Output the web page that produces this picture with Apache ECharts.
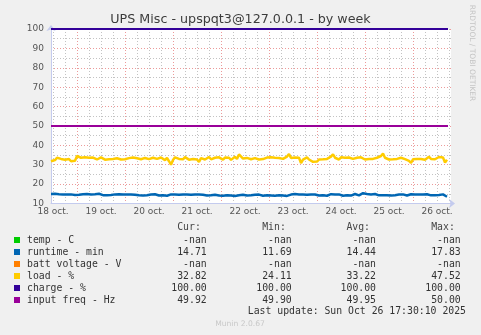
<!DOCTYPE html>
<html><head><meta charset="utf-8">
<script src="https://cdn.jsdelivr.net/npm/echarts@6/dist/echarts.min.js"></script>
<style>html,body{margin:0;padding:0;background:#f0f0f0}#c{width:481px;height:335px}</style>
</head><body><div id="c"></div><script>
// hours counted from 18 Oct 00:00
const axisStartHour = 11;
const axisEndHour = 211;
const dataStartHour = 11;
const dayLabels = ['18 oct.','19 oct.','20 oct.','21 oct.','22 oct.','23 oct.','24 oct.','25 oct.','26 oct.'];
const yTickValues = [10,20,30,40,50,60,70,80,90,100];

const loadValues = [
  31.8,31.2,32.4,33.6,33.9,33.0,33.8,32.6,32.2,32.9,31.8,32.6,32.1,
  34.5,33.8,33.6,32.9,33.8,32.9,33.6,32.8,33.7,33.0,32.7,33.6,33.8,32.9,32.6,33.5,32.8,33.7,33.0,32.5,33.3,33.6,32.7,33.5,
  32.8,32.4,33.4,32.6,33.7,32.7,33.3,33.8,32.8,32.5,33.5,34.0,32.9,32.7,33.6,34.1,33.0,32.6,33.7,32.9,32.4,33.5,31.8,30.0,
  32.4,33.8,34.1,33.0,33.7,32.8,33.9,33.1,32.6,33.6,32.9,33.8,32.7,31.4,33.4,33.7,32.7,33.5,34.0,32.8,32.5,33.6,32.9,33.8,
  33.0,32.6,33.7,32.8,33.6,32.5,33.5,34.1,33.0,35.3,34.6,33.2,32.7,33.5,33.8,32.8,32.4,33.4,33.7,32.7,33.6,32.9,32.6,33.7,
  32.9,33.8,32.8,33.6,32.6,33.5,34.1,33.0,33.8,34.2,35.5,33.5,33.0,33.7,32.7,33.6,30.9,32.6,33.5,33.8,32.7,33.4,31.5,32.1,
  31.6,32.7,33.6,32.8,33.8,33.0,32.7,34.2,35.4,33.6,33.1,32.7,33.8,32.9,33.6,32.6,33.7,34.1,33.0,32.5,33.6,32.8,33.8,33.0,
  32.7,33.7,32.9,33.9,33.0,32.6,33.6,34.1,34.5,35.8,33.6,33.1,32.7,33.7,32.8,33.8,33.0,32.5,33.6,34.0,32.9,32.4,32.0,30.9,
  32.8,33.7,33.0,33.9,32.9,33.6,32.6,33.5,34.1,33.0,33.8,32.8,33.6,34.0,33.0,33.7,31.1,32.6
];
const runtimeValues = [
  14.9,14.5,15.0,14.4,14.8,14.3,14.7,14.2,14.6,14.0,14.7,14.9,14.4,
  15.0,14.5,14.3,14.8,14.4,14.9,14.3,14.7,14.2,14.8,14.4,15.0,14.5,14.3,14.8,14.2,14.7,14.4,14.1,14.7,14.3,14.8,14.2,14.6,
  14.1,14.6,14.2,14.7,14.0,14.5,14.8,14.2,14.6,14.1,14.7,14.3,14.0,14.6,14.2,14.8,14.3,14.1,14.7,14.2,14.6,14.0,14.5,14.7,
  14.2,14.6,14.1,14.5,13.9,14.7,14.2,14.6,14.0,14.5,14.1,14.7,14.2,14.6,14.0,14.5,14.8,14.1,14.6,14.2,13.9,14.5,14.7,14.1,
  14.5,14.0,14.6,14.2,14.7,14.1,14.5,13.9,14.6,14.2,14.0,14.5,14.7,14.1,14.6,14.2,13.8,14.5,14.1,14.6,14.2,14.0,14.7,14.2,
  14.6,14.1,14.5,14.0,14.7,14.2,14.6,14.1,14.5,13.9,14.2,14.6,14.1,14.9,14.3,14.7,14.2,14.6,14.0,14.5,14.1,14.7,14.2,14.6,
  14.3,14.1,14.7,14.2,14.6,14.0,14.5,14.8,14.2,14.6,14.1,14.7,14.3,14.0,14.6,14.2,14.7,14.1,14.5,14.9,14.4,14.2,14.7,15.3,
  15.1,14.9,14.2,14.7,14.3,14.9,14.4,14.2,14.7,14.3,14.8,14.2,14.6,14.1,14.7,14.3,14.0,14.6,14.2,14.7,14.3,14.1,14.6,14.8,
  14.3,14.7,14.2,14.6,14.1,14.7,14.3,14.8,14.4,14.2,14.7,14.3,14.9,14.4,14.2,14.7,13.9,13.5
];
const chargeHours = [11, 209.5];
const chargeValues = [100, 100];
const freqHours = [11, 60, 110, 160, 209.5];
const freqValues = [49.95, 49.93, 49.97, 49.94, 49.92];
const tempValues = [];
const battValues = [];

const legendNames = ['temp - C','runtime - min','batt voltage - V','load - %','charge - %','input freq - Hz'];
const legendColors = ['#00cc00','#0066b3','#ff8000','#ffcc00','#330099','#990099'];
const curValues = ['-nan','14.71','-nan','32.82','100.00','49.92'];
const minValues = ['-nan','11.69','-nan','24.11','100.00','49.90'];
const avgValues = ['-nan','14.44','-nan','33.22','100.00','49.95'];
const maxValues = ['-nan','17.83','-nan','47.52','100.00','50.00'];
const headers = ['Cur:','Min:','Avg:','Max:'];
const lastUpdate = 'Last update: Sun Oct 26 17:30:10 2025';

const RED = 'rgba(230,120,120,0.75)';
const GRAY = 'rgba(180,180,180,0.8)';
const NONE = 'rgba(0,0,0,0)';
const xGridColors = [];
for (let k = 0; k < 24; k++) {
  const h = (axisStartHour + k) % 24;
  xGridColors.push(h === 0 ? RED : (h % 6 === 0 ? GRAY : NONE));
}
const series0 = (vals, start) => vals.map((v, i) => [start + i, v]);
const pairs = (hs, vs) => hs.map((h, i) => [h, vs[i]]);

const mono = 'DejaVu Sans Mono';
const graphics = [
  {type:'text', x:240.5, y:19.5, style:{text:'UPS Misc - upspqt3@127.0.0.1 - by week', font:'12.7px "DejaVu Sans"', fill:'#3c3c3c', textAlign:'center', textVerticalAlign:'middle'}},
  {type:'text', x:471.5, y:53, rotation:-Math.PI/2, style:{text:'RRDTOOL / TOBI OETIKER', font:'7.5px "DejaVu Sans"', fill:'#c4c4c4', textAlign:'center', textVerticalAlign:'middle'}},
  {type:'text', x:240, y:324, style:{text:'Munin 2.0.67', font:'7.6px "DejaVu Sans"', fill:'#c8c8c8', textAlign:'center', textVerticalAlign:'middle'}},
  {type:'text', x:466, y:311.5, style:{text:lastUpdate, font:'9.8px "'+mono+'"', fill:'#333', textAlign:'right', textVerticalAlign:'middle'}}
];
const colRight = [206.7, 291.7, 376, 460.7];
const headRight = [200.8, 285.8, 370, 454.8];
headers.forEach((h, i) => graphics.push({type:'text', x:headRight[i], y:227.8, style:{text:h, font:'9.8px "'+mono+'"', fill:'#444', textAlign:'right', textVerticalAlign:'middle'}}));
legendNames.forEach((n, r) => {
  const y = 240 + r * 12;
  graphics.push({type:'rect', shape:{x:14, y:y-3, width:6, height:6}, style:{fill:legendColors[r]}});
  graphics.push({type:'text', x:27, y:y, style:{text:n, font:'9.8px "'+mono+'"', fill:'#333', textVerticalAlign:'middle'}});
  [curValues, minValues, avgValues, maxValues].forEach((arr, c) => {
    graphics.push({type:'text', x:colRight[c], y:y, style:{text:arr[r], font:'9.8px "'+mono+'"', fill:'#333', textAlign:'right', textVerticalAlign:'middle'}});
  });
});

const chart = echarts.init(document.getElementById('c'), null, {renderer:'canvas'});
const lineS = (name, data, color, width) => ({name, type:'line', data, showSymbol:false, symbol:'none', animation:false, sampling:null, lineStyle:{color, width}, itemStyle:{color}});
chart.setOption({
  backgroundColor:'#f0f0f0',
  animation:false,
  grid:{left:51, top:29, width:400, height:174.5, show:true, backgroundColor:'#ffffff', borderWidth:0},
  xAxis:{type:'value', min:axisStartHour, max:axisEndHour, interval:1,
    axisLine:{show:true, onZero:false, lineStyle:{color:'#c4cbee', width:1}, symbol:['none','arrow'], symbolSize:[7,6], symbolOffset:[0,4]},
    axisTick:{show:false},
    axisLabel:{fontFamily:'DejaVu Sans', fontSize:9, color:'#555', margin:4,
      formatter:v => { const h = Math.round(v); return (h % 24 === 12) ? dayLabels[(h - 12) / 24] : ''; }},
    splitLine:{show:true, lineStyle:{color:xGridColors, type:[1,2], width:1}}},
  yAxis:{type:'value', min:10, max:100, interval:5,
    axisLine:{show:true, lineStyle:{color:'#c4cbee', width:1}, symbol:['none','arrow'], symbolSize:[7,6], symbolOffset:[0,4]},
    axisTick:{show:false},
    axisLabel:{fontFamily:'DejaVu Sans', fontSize:9, color:'#555', margin:7,
      formatter:v => yTickValues.indexOf(Math.round(v)) >= 0 && Math.abs(v - Math.round(v)) < 1e-6 ? String(Math.round(v)) : ''},
    splitLine:{show:true, lineStyle:{color:[RED, GRAY], type:[1,2], width:1}}},
  series:[
    lineS('temp - C', series0(tempValues, dataStartHour), legendColors[0], 1.5),
    lineS('runtime - min', series0(runtimeValues, dataStartHour), legendColors[1], 2.5),
    lineS('batt voltage - V', series0(battValues, dataStartHour), legendColors[2], 1.5),
    lineS('load - %', series0(loadValues, dataStartHour), legendColors[3], 2.5),
    lineS('charge - %', pairs(chargeHours, chargeValues), legendColors[4], 2),
    lineS('input freq - Hz', pairs(freqHours, freqValues), legendColors[5], 2)
  ],
  graphic:graphics
});
</script></body></html>
